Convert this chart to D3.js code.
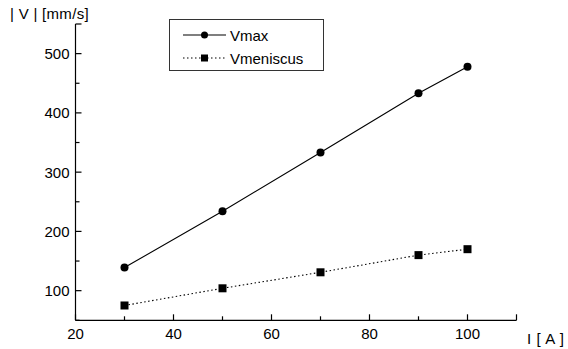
<!DOCTYPE html>
<html>
<head>
<meta charset="utf-8">
<script src="https://cdn.jsdelivr.net/npm/d3@7"></script>
<style>
  body { margin: 0; background: #fff; }
  text { font-family: "Liberation Sans", Arial, sans-serif; fill: #000; }
</style>
</head>
<body>
<svg id="chart" width="568" height="349"></svg>
<script>
// values
const current = [30, 50, 70, 90, 100];
const vMax = [139, 234, 333, 433, 478];
const vMeniscus = [75, 104, 131, 160, 170];
const seriesNames = ["Vmax", "Vmeniscus"];
const xMajorTicks = [20, 40, 60, 80, 100];
const yMajorTicks = [100, 200, 300, 400, 500];

const svg = d3.select("#chart");
const fs = 15;

const x = d3.scaleLinear().domain([20, 110]).range([75.5, 516.5]);
const y = d3.scaleLinear().domain([50, 550]).range([320.3, 24]);

const axisG = svg.append("g").attr("stroke", "#000").attr("stroke-width", 1.2);

// axis lines
axisG.append("line").attr("x1", x(20)).attr("x2", x(110)).attr("y1", y(50)).attr("y2", y(50));
axisG.append("line").attr("x1", x(20)).attr("x2", x(20)).attr("y1", y(50)).attr("y2", y(550));

// x ticks (inward, pointing up)
d3.range(20, 111, 10).forEach(v => {
    const major = v % 20 === 0 || v === 110;
    axisG.append("line")
        .attr("x1", x(v)).attr("x2", x(v))
        .attr("y1", y(50)).attr("y2", y(50) - (major ? 6 : 4));
});
// y ticks (inward, pointing right)
d3.range(50, 551, 50).forEach(v => {
    const major = v % 100 === 0 || v === 550;
    axisG.append("line")
        .attr("x1", x(20)).attr("x2", x(20) + (major ? 6 : 4))
        .attr("y1", y(v)).attr("y2", y(v));
});

svg.append("g").selectAll("text").data(xMajorTicks).join("text")
    .attr("x", d => x(d)).attr("y", 339)
    .attr("text-anchor", "middle").attr("font-size", fs)
    .text(d => d);

svg.append("g").selectAll("text").data(yMajorTicks).join("text")
    .attr("x", 69.5).attr("y", d => y(d) + 5.5)
    .attr("text-anchor", "end").attr("font-size", fs)
    .text(d => d);

svg.append("text").attr("x", 527).attr("y", 344).attr("font-size", fs)
    .attr("letter-spacing", 0.6).text("I [ A ]");
svg.append("text").attr("x", 10).attr("y", 19).attr("font-size", fs)
    .attr("letter-spacing", 0.3).text("| V | [mm/s]");

const line = d3.line().x(d => x(d[0])).y(d => y(d[1]));
const maxPts = d3.zip(current, vMax);
const menPts = d3.zip(current, vMeniscus);

svg.append("path").datum(maxPts).attr("d", line)
    .attr("fill", "none").attr("stroke", "#000").attr("stroke-width", 1.1);
svg.append("path").datum(menPts).attr("d", line)
    .attr("fill", "none").attr("stroke", "#000").attr("stroke-width", 1.1)
    .attr("stroke-dasharray", "1.5,2.5");

svg.append("g").selectAll("circle").data(maxPts).join("circle")
    .attr("cx", d => x(d[0])).attr("cy", d => y(d[1])).attr("r", 4).attr("fill", "#000");
svg.append("g").selectAll("rect").data(menPts).join("rect")
    .attr("x", d => x(d[0]) - 4).attr("y", d => y(d[1]) - 4)
    .attr("width", 8).attr("height", 8).attr("fill", "#000");

// legend
const legend = svg.append("g");
legend.append("rect").attr("x", 169.5).attr("y", 19.5).attr("width", 154).attr("height", 51)
    .attr("fill", "#fff").attr("stroke", "#333").attr("stroke-width", 1);
seriesNames.forEach((name, i) => {
    const ly = 35 + i * 23;
    legend.append("line").attr("x1", 183).attr("x2", 226).attr("y1", ly).attr("y2", ly)
        .attr("stroke", "#000").attr("stroke-width", 1.1)
        .attr("stroke-dasharray", i === 1 ? "1.5,2.5" : null);
    if (i === 0) {
        legend.append("circle").attr("cx", 204.5).attr("cy", ly).attr("r", 3.5).attr("fill", "#000");
    } else {
        legend.append("rect").attr("x", 201).attr("y", ly - 3.5).attr("width", 7).attr("height", 7).attr("fill", "#000");
    }
    legend.append("text").attr("x", 230).attr("y", ly + 5.5).attr("font-size", fs).text(name);
});
</script>
</body>
</html>
